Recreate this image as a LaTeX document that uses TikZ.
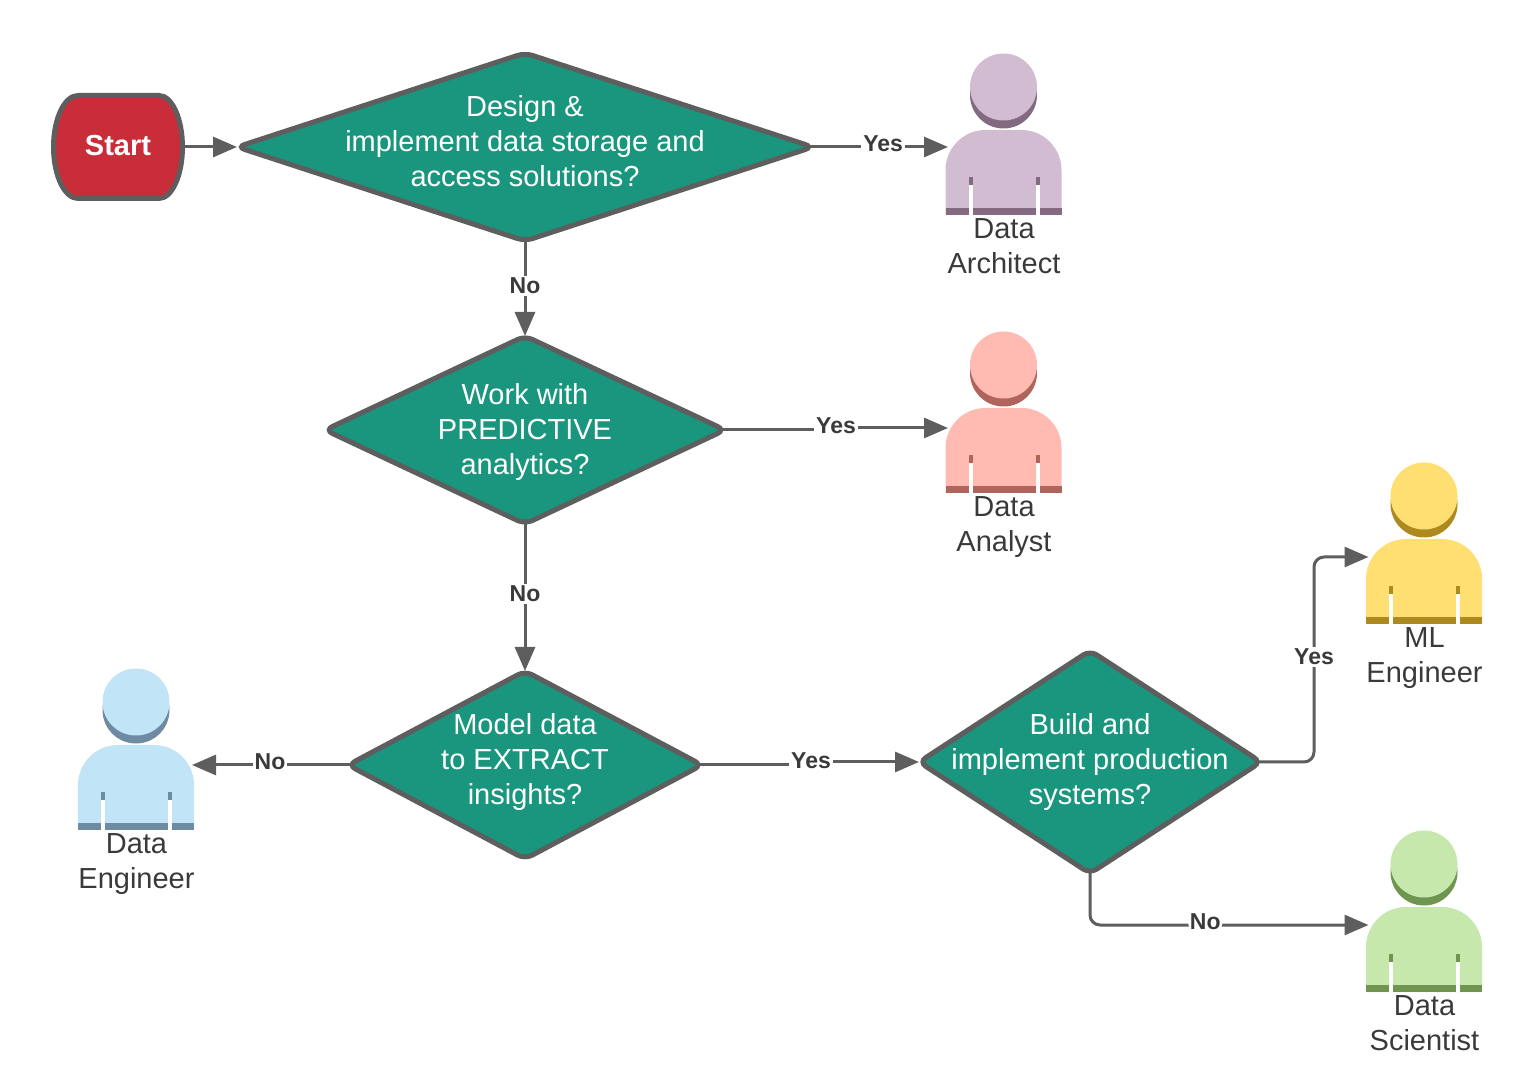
\documentclass[tikz,border=0pt]{standalone}
\usepackage{fontspec}
\setmainfont{Liberation Sans}
\usetikzlibrary{shapes.geometric,arrows.meta}
\definecolor{lineGray}{HTML}{5E5E5E}
\definecolor{textGray}{HTML}{3A3A3A}
\definecolor{startRed}{HTML}{C92D39}
\definecolor{decisionTeal}{HTML}{19967D}
\definecolor{archLight}{HTML}{D1BCD2}
\definecolor{archDark}{HTML}{836A80}
\definecolor{analLight}{HTML}{FFBBB1}
\definecolor{analDark}{HTML}{B0655C}
\definecolor{mlLight}{HTML}{FFDF71}
\definecolor{mlDark}{HTML}{AD8A1F}
\definecolor{sciLight}{HTML}{C7E8AC}
\definecolor{sciDark}{HTML}{6F9550}
\definecolor{engLight}{HTML}{C1E4F7}
\definecolor{engDark}{HTML}{6E8BA3}
\tikzset{
  decision/.style={diamond,draw=lineGray,fill=decisionTeal,line width=2.5pt,rounded corners=4pt,
    inner sep=0pt,outer sep=0pt},
  decisionText/.style={text=white,align=center,anchor=north,inner sep=0pt,font=\fontsize{14.5}{17.5}\selectfont},
  flow/.style={draw=lineGray,line width=1.5pt,shorten <=-2pt,-{Triangle[length=12pt,width=10pt]}},
  flowBend/.style={flow,rounded corners=5pt},
  flowLabel/.style={fill=white,text=textGray,inner sep=1pt,font=\fontsize{11.5}{13}\bfseries\selectfont},
  personText/.style={text=textGray,align=center,anchor=north,inner sep=0pt,font=\fontsize{14.5}{17.5}\selectfont},
}
\begin{document}
\begin{tikzpicture}[x=.5pt,y=.5pt]
\useasboundingbox (0,0) rectangle (1536,1071);
% start
\path[draw=lineGray,fill=startRed,line width=2.5pt] (78,975.5) -- (159,975.5)
  arc[start angle=90,end angle=-90,x radius=23.5,y radius=51.5] -- (78,872.5)
  arc[start angle=270,end angle=90,x radius=24.5,y radius=51.5] -- cycle;
\node (start) at (118,924) [minimum width=66pt,minimum height=50pt,outer sep=0pt,text=white,
  font=\fontsize{14.5}{17}\bfseries\selectfont] {\raisebox{1.5pt}{Start}};
% decisions
\node[decision,minimum width=288pt,minimum height=94pt] (d1) at (525,924) {};
\node[decision,minimum width=200pt,minimum height=94pt] (d2) at (525,641) {};
\node[decision,minimum width=177pt,minimum height=94pt] (d3) at (525,306) {};
\node[decision,minimum width=171pt,minimum height=111.5pt] (d4) at (1090,309) {};
\node[decisionText] at (525,975.5) {Design \&\\implement data storage and\\access solutions?};
\node[decisionText] at (525,687.5) {Work with\\PREDICTIVE\\analytics?};
\node[decisionText] at (525,358) {Model data\\to EXTRACT\\insights?};
\node[decisionText] at (1090,358) {Build and\\implement production\\systems?};
% people
\foreach \who/\x/\y/\lite/\dark/\txt in {
  arch/1003.5/856/archLight/archDark/{Data\\Architect},
  anal/1003.5/578/analLight/analDark/{Data\\Analyst},
  ml/1424/447/mlLight/mlDark/{ML\\Engineer},
  sci/1424/79/sciLight/sciDark/{Data\\Scientist},
  eng/136/241/engLight/engDark/{Data\\Engineer}} {
  \fill[\dark] (\x,\y+120) circle[radius=33.5];
  \fill[\lite] (\x,\y+128) circle[radius=33.5];
  \fill[\lite] (\x-58,\y) -- (\x-58,\y+45) arc[start angle=180,end angle=90,radius=40]
    -- (\x+18,\y+85) arc[start angle=90,end angle=0,radius=40] -- (\x+58,\y) -- cycle;
  \fill[\dark] (\x-58,\y) rectangle (\x+58,\y+7);
  \foreach \s in {-35,32} {
    \fill[white] (\x+\s,\y) rectangle (\x+\s+4,\y+30);
    \fill[\dark] (\x+\s,\y+30) rectangle (\x+\s+4,\y+38);
  }
  \coordinate (\who-w) at (\x-55.5,\y+67);
  \coordinate (\who-e) at (\x+56,\y+65);
  \node[personText] (\who-text) at (\x+.5,\y-3.5) {\txt};
}
% connectors
\coordinate (yesB) at (836,643);
\coordinate (yesC) at (811,309);
\coordinate (yesD) at (1314,415);
\draw[flow] (start.east) -- (d1.west);
\draw[flow] (d1.east) -- node[flowLabel,pos=.52,yshift=1.5pt] {Yes} (d1.east -| arch-w);
\draw[flow] (d1.south) -- node[flowLabel,pos=.47] {No} (d2.north);
\draw[flow] (d2.east) -| (yesB) |- ([yshift=-1pt]anal-w);
\draw[flow] (d2.south) -- node[flowLabel,pos=.476] {No} (d3.north);
\draw[flow] (d3.west) -- node[flowLabel,yshift=1.5pt] {No} (d3.west -| eng-e);
\draw[flow] (d3.east) -| (yesC) |- (d4.west);
\draw[flowBend] (d4.east) -| (yesD) |- (ml-w);
\draw[flowBend] (d4.south) |- node[flowLabel,pos=.707,yshift=1.5pt] {No} (sci-w);
\node[flowLabel] at (836,645) {Yes};
\node[flowLabel] at (811,310) {Yes};
\node[flowLabel] at (1314,414) {Yes};
\end{tikzpicture}
\end{document}
